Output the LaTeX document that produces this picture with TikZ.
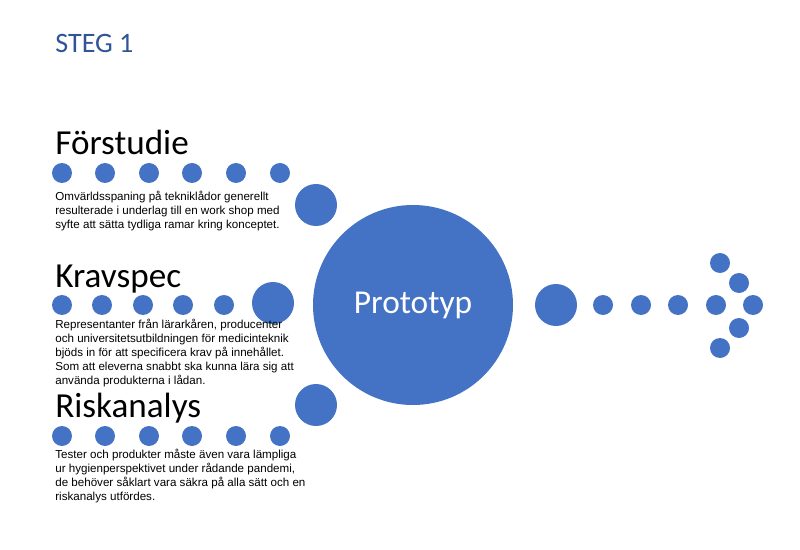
\documentclass[tikz,border=0pt]{standalone}
\usepackage{fontspec}
\setmainfont{Carlito}
\newfontfamily\bodyfont{Liberation Sans}
\definecolor{dotblue}{HTML}{4472C4}
\definecolor{titleblue}{HTML}{2F5597}
\begin{document}
\begin{tikzpicture}[x=0.02cm,y=-0.02cm,
            dot/.style={circle,fill=dotblue,inner sep=0,outer sep=0,minimum size=20*0.02cm},
            big dot/.style={circle,fill=dotblue,inner sep=0,outer sep=0,minimum size=42*0.02cm},
            heading/.style={anchor=base west,inner sep=0,font=\fontsize{20}{22}\selectfont},
            body/.style={anchor=north west,inner sep=0,align=left,
                         font=\bodyfont\fontsize{6.6}{7.9}\selectfont}]
            \useasboundingbox (0,0) rectangle (800,550);
            \node[anchor=base west,inner sep=0,text=titleblue,font=\fontsize{16}{18}\selectfont] (steg) at (55,53) {STEG 1};
            %==================
            \node[heading] (forstudie) at (55,155) {Förstudie};
            \foreach \x [count=\i] in {62,105,149,192,236,280}
                \node[dot] (f\i) at (\x,173) {};
            \node[big dot] (fbig) at (316,205) {};
            \node[body] (ftext) at (55,191) {Omvärldsspaning på tekniklådor generellt\\resulterade i underlag till en work shop med\\syfte att sätta tydliga ramar kring konceptet.};
            %==================
            \node[heading] (kravspec) at (55,287) {Kravspec};
            \foreach \x [count=\i] in {62,102,143,183,224}
                \node[dot] (k\i) at (\x,305) {};
            \node[big dot] (kbig) at (273,303) {};
            \node[body] (ktext) at (55,319) {Representanter från lärarkåren, producenter\\och universitetsutbildningen för medicinteknik\\bjöds in för att specificera krav på innehållet.\\Som att eleverna snabbt ska kunna lära sig att\\använda produkterna i lådan.};
            %==================
            \node[heading] (riskanalys) at (55,417) {Riskanalys};
            \foreach \x [count=\i] in {62,105,149,192,236,280}
                \node[dot] (r\i) at (\x,436) {};
            \node[big dot] (rbig) at (316,405) {};
            \node[body] (rtext) at (55,449) {Tester och produkter måste även vara lämpliga\\ur hygienperspektivet under rådande pandemi,\\de behöver såklart vara säkra på alla sätt och en\\riskanalys utfördes.};
            %==================
            \node[circle,fill=dotblue,minimum size=200*0.02cm,inner sep=0,text=white,
                  font=\fontsize{19}{21}\selectfont] (proto) at (413,305) {Prototyp};
            \node[big dot] (pbig) at (556,305) {};
            \foreach \x [count=\i] in {603,641,678,716,753}
                \node[dot] (p\i) at (\x,305) {};
            \node[dot] (a1) at (739,283) {};
            \node[dot] (a2) at (720,263) {};
            \node[dot] (a3) at (739,328) {};
            \node[dot] (a4) at (720,348) {};
        \end{tikzpicture}
\end{document}
